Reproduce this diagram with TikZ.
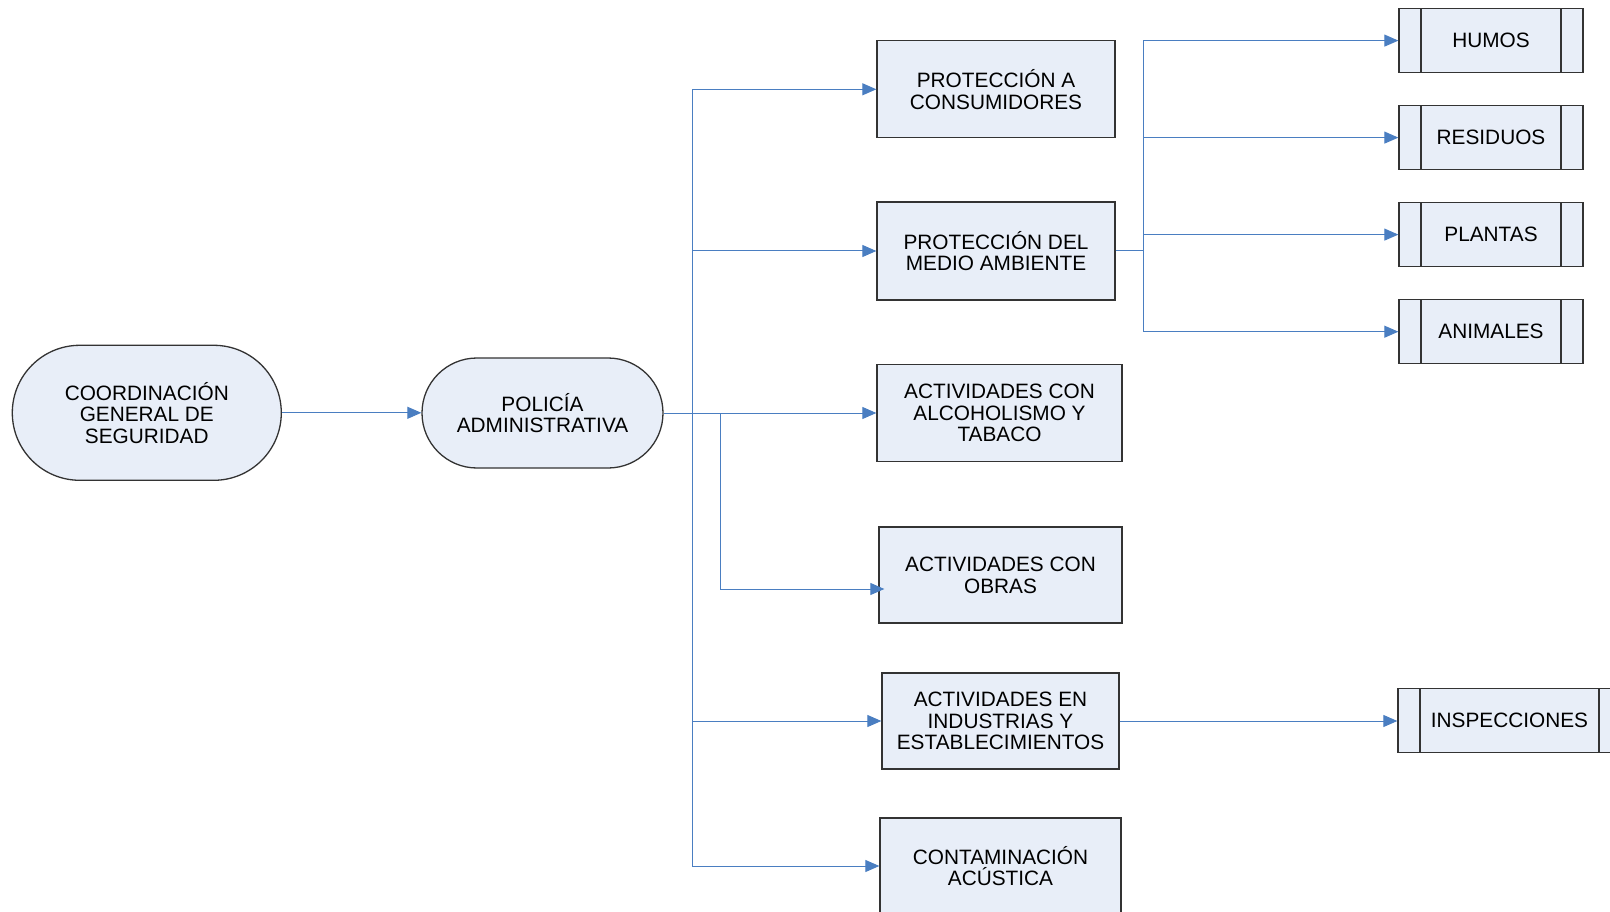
\documentclass[tikz,border=0pt]{standalone}
\usepackage{fontspec}
\setmainfont{Liberation Sans}
\usetikzlibrary{arrows.meta,shapes.misc}
\definecolor{boxfill}{RGB}{232,238,248}
\definecolor{linkblue}{RGB}{74,126,193}
\tikzset{
  box/.style={draw=black!80, line width=1.3pt, fill=boxfill, align=center,
    inner sep=0pt, font=\fontsize{20.8}{21.7}\selectfont},
  oval/.style={box, rounded rectangle},
  leaf/.style={box, minimum width=184pt, minimum height=64pt,
    path picture={%
      \draw[black!80, line width=1.3pt]
        ([xshift=22pt]path picture bounding box.north west) -- ([xshift=22pt]path picture bounding box.south west)
        ([xshift=-22pt]path picture bounding box.north east) -- ([xshift=-22pt]path picture bounding box.south east);
    }},
  link/.style={draw=linkblue, line width=1pt},
  conn/.style={link, -{Triangle[length=14pt,width=12pt]}}
}
\begin{document}
\begin{tikzpicture}[x=1pt,y=-1pt]
    \useasboundingbox (0,0) rectangle (1610,912);
    \node[oval, minimum width=269pt, minimum height=135pt] (coord) at (146.8,412.8) {COORDINACIÓN\\GENERAL DE\\SEGURIDAD};
    \node[oval, minimum width=241pt, minimum height=110pt] (policia) at (542.5,413) {POLICÍA\\ADMINISTRATIVA};
    \node[box, minimum width=238pt, minimum height=97pt] (consum) at (996,89.3) {PROTECCIÓN A\\CONSUMIDORES};
    \node[box, minimum width=238pt, minimum height=98pt] (ambiente) at (996,251) {PROTECCIÓN DEL\\MEDIO AMBIENTE};
    \node[box, minimum width=245pt, minimum height=97pt] (alcohol) at (999.5,413) {ACTIVIDADES CON\\ALCOHOLISMO Y\\TABACO};
    \node[box, minimum width=243pt, minimum height=96pt] (obras) at (1000.5,575) {ACTIVIDADES CON\\OBRAS};
    \node[box, minimum width=237pt, minimum height=96pt] (industria) at (1000.5,721) {ACTIVIDADES EN\\INDUSTRIAS Y\\ESTABLECIMIENTOS};
    \node[box, minimum width=241pt, minimum height=96pt] (acustica) at (1000.5,866) {CONTAMINACIÓN\\ACÚSTICA};
    \foreach \n/\y/\t in {humos/40.6/HUMOS,residuos/137.6/RESIDUOS,plantas/234.6/PLANTAS,animales/331.7/ANIMALES}{%
      \node[leaf] (\n) at (1491,\y) {\t};
    }
    \node[leaf, minimum width=223pt] (inspec) at (1509.5,720.3) {INSPECCIONES};
    \coordinate (trunk) at (692,413);
    \coordinate (fork) at (720,413);
    \coordinate (branch) at (1143,251);
    \draw[conn] (coord.east) -- (coord.east -| policia.west);
    \draw[conn] (policia.east) -- (alcohol.west);
    \draw[link] (trunk |- consum.west) -- (trunk |- acustica.west);
    \foreach \n in {consum,ambiente,industria,acustica}{%
      \draw[conn] (trunk |- \n.west) -- (\n.west);
    }
    \draw[conn] (fork) |- ([shift={(6,14)}]obras.west);
    \draw[link] (ambiente.east) -- (branch);
    \draw[link] (branch |- humos.west) -- (branch |- animales.west);
    \foreach \n in {humos,residuos,plantas,animales}{%
      \draw[conn] (branch |- \n.west) -- (\n.west);
    }
    \draw[conn] (industria.east) -- (industria.east -| inspec.west);
  \end{tikzpicture}
\end{document}
